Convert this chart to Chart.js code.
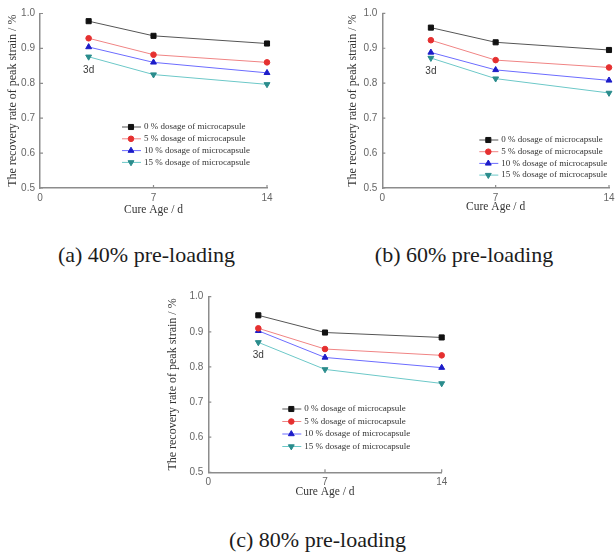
<!DOCTYPE html>
<html>
<head>
<meta charset="utf-8">
<script src="https://cdn.jsdelivr.net/npm/chart.js@4.4.1/dist/chart.umd.min.js"></script>
<style>
  body { margin: 0; background: #fff; width: 615px; height: 553px; overflow: hidden; position: relative; }
  .panel { position: absolute; }
  .caption {
    position: absolute;
    font-family: "Liberation Serif", "Times New Roman", serif;
    font-size: 22px;
    color: #1c1c1c;
    white-space: nowrap;
    transform: translate(-50%, -50%);
  }
</style>
</head>
<body>
<div class="panel" style="left:0;top:0"><canvas id="chartA" width="305" height="225"></canvas></div>
<div class="panel" style="left:340px;top:0"><canvas id="chartB" width="290" height="225"></canvas></div>
<div class="panel" style="left:160px;top:280px"><canvas id="chartC" width="310" height="225"></canvas></div>
<div class="caption" style="left:146.5px;top:255px">(a) 40% pre-loading</div>
<div class="caption" style="left:464px;top:255px">(b) 60% pre-loading</div>
<div class="caption" style="left:317.5px;top:540px">(c) 80% pre-loading</div>

<script>
// curing ages (days) shared by every panel
const ages = [3, 7, 14];
const ageLabel = "3d";

const seriesLabels = [
  "0 % dosage of microcapsule",
  "5 % dosage of microcapsule",
  "10 % dosage of microcapsule",
  "15 % dosage of microcapsule",
];

const xTicks = [0, 7, 14];
const yTicks = [0.5, 0.6, 0.7, 0.8, 0.9, 1.0];

// (a) 40% pre-loading
const pre40Dose0 = [0.978, 0.936, 0.914];
const pre40Dose5 = [0.929, 0.882, 0.860];
const pre40Dose10 = [0.904, 0.860, 0.830];
const pre40Dose15 = [0.876, 0.825, 0.797];

// (b) 60% pre-loading
const pre60Dose0 = [0.959, 0.917, 0.895];
const pre60Dose5 = [0.923, 0.866, 0.845];
const pre60Dose10 = [0.888, 0.838, 0.808];
const pre60Dose15 = [0.872, 0.813, 0.772];

// (c) 80% pre-loading
const pre80Dose0 = [0.947, 0.898, 0.884];
const pre80Dose5 = [0.910, 0.851, 0.833];
const pre80Dose10 = [0.903, 0.827, 0.798];
const pre80Dose15 = [0.870, 0.793, 0.753];

// one look per dosage series
const seriesStyles = [
  { line: "#555555", point: "#111111", shape: "rect", radius: 3.6, rotation: 0 },
  { line: "#f08484", point: "#e53030", shape: "circle", radius: 2.8, rotation: 0 },
  { line: "#6c6cff", point: "#1c1cc8", shape: "triangle", radius: 3.4, rotation: 0 },
  { line: "#6cc8c8", point: "#2a8c8c", shape: "triangle", radius: 3.4, rotation: 180 },
];

const axisGray = "#8c8c8c";
const serif = '"Liberation Serif", "Times New Roman", serif';
const sans = '"Liberation Sans", Arial, sans-serif';

// small tick marks pointing into the plot
const innerTicks = {
  id: "innerTicks",
  afterDraw(chart) {
    const { ctx, chartArea, scales } = chart;
    ctx.save();
    ctx.strokeStyle = axisGray;
    ctx.lineWidth = 1.2;
    ctx.beginPath();
    yTicks.forEach((v) => {
      const y = scales.y.getPixelForValue(v);
      ctx.moveTo(chartArea.left, y);
      ctx.lineTo(chartArea.left + 3, y);
    });
    xTicks.slice(1).forEach((v) => {
      const x = scales.x.getPixelForValue(v);
      ctx.moveTo(x, chartArea.bottom);
      ctx.lineTo(x, chartArea.bottom - 3);
    });
    ctx.stroke();
    ctx.restore();
  },
};

// legend drawn inside the plot area
const insideLegend = {
  id: "insideLegend",
  afterDraw(chart, args, opts) {
    const { ctx, chartArea } = chart;
    ctx.save();
    ctx.font = "9px " + serif;
    ctx.textBaseline = "middle";
    chart.data.datasets.forEach((ds, i) => {
      const x = chartArea.left + opts.x;
      const y = chartArea.top + opts.y + i * opts.gap;
      ctx.strokeStyle = ds.borderColor;
      ctx.lineWidth = 1;
      ctx.beginPath();
      ctx.moveTo(x, y);
      ctx.lineTo(x + 19, y);
      ctx.stroke();
      ctx.fillStyle = ds.pointBackgroundColor;
      ctx.strokeStyle = ds.pointBorderColor;
      Chart.helpers.drawPoint(ctx, {
        pointStyle: ds.pointStyle,
        rotation: ds.pointRotation,
        radius: ds.pointRadius,
        borderWidth: 1,
      }, x + 9, y);
      ctx.fillStyle = "#333";
      ctx.fillText(ds.label, x + 22, y);
    });
    ctx.restore();
  },
};

// "3d" note under the first point of the lowest series
const ageNote = {
  id: "ageNote",
  afterDraw(chart) {
    const { ctx, scales } = chart;
    const last = chart.data.datasets[chart.data.datasets.length - 1];
    const x = scales.x.getPixelForValue(ages[0]);
    const y = scales.y.getPixelForValue(last.data[0].y) + 13;
    ctx.save();
    ctx.font = "10px " + sans;
    ctx.fillStyle = "#3a3a3a";
    ctx.textAlign = "center";
    ctx.textBaseline = "middle";
    ctx.fillText(ageLabel, x, y);
    ctx.restore();
  },
};

function buildPanel(canvasId, seriesValues, box) {
  const datasets = seriesValues.map((values, i) => {
    const s = seriesStyles[i];
    return {
      label: seriesLabels[i],
      data: values.map((v, j) => ({ x: ages[j], y: v })),
      borderColor: s.line,
      borderWidth: 1,
      pointStyle: s.shape,
      pointRotation: s.rotation,
      pointRadius: s.radius,
      pointBackgroundColor: s.point,
      pointBorderColor: s.point,
      pointBorderWidth: 1,
      tension: 0,
      clip: false,
    };
  });

  new Chart(document.getElementById(canvasId), {
    type: "line",
    data: { datasets },
    plugins: [innerTicks, insideLegend, ageNote],
    options: {
      responsive: false,
      animation: false,
      layout: { padding: { top: box.top, right: box.right, left: 0, bottom: 0 } },
      plugins: {
        legend: { display: false },
        tooltip: { enabled: false },
        insideLegend: box.legend,
      },
      scales: {
        x: {
          type: "linear",
          min: 0,
          max: 14,
          afterBuildTicks: (scale) => { scale.ticks = xTicks.map((v) => ({ value: v })); },
          afterFit: (scale) => { scale.height = box.xHeight; },
          grid: { display: false, drawTicks: false },
          border: { display: true, color: axisGray, width: 1.5 },
          ticks: {
            color: "#666",
            padding: 4,
            autoSkip: false,
            maxRotation: 0,
            font: { family: sans, size: 10 },
          },
          title: {
            display: true,
            text: "Cure Age / d",
            color: "#333",
            font: { family: serif, size: 11.5 },
            padding: { top: 0, bottom: box.xTitlePad },
          },
        },
        y: {
          min: 0.5,
          max: 1.0,
          afterBuildTicks: (scale) => { scale.ticks = yTicks.map((v) => ({ value: v })); },
          afterFit: (scale) => { scale.width = box.yWidth; },
          grid: { display: false, drawTicks: false },
          border: { display: true, color: axisGray, width: 1.5 },
          ticks: {
            color: "#666",
            padding: 5,
            autoSkip: false,
            font: { family: sans, size: 10 },
            callback: (v) => v.toFixed(1),
          },
          title: {
            display: true,
            text: "The recovery rate of peak strain / %",
            color: "#333",
            font: { family: serif, size: 12 },
            padding: { top: 6, bottom: 0 },
          },
        },
      },
    },
  });
}

buildPanel("chartA", [pre40Dose0, pre40Dose5, pre40Dose10, pre40Dose15], {
  top: 13.5, right: 38, yWidth: 40, xHeight: 37, xTitlePad: 8,
  legend: { x: 82, y: 113.5, gap: 11.8 },
});

buildPanel("chartB", [pre60Dose0, pre60Dose5, pre60Dose10, pre60Dose15], {
  top: 13.3, right: 21, yWidth: 42.3, xHeight: 37, xTitlePad: 11,
  legend: { x: 97, y: 126.7, gap: 11.7 },
});

buildPanel("chartC", [pre80Dose0, pre80Dose5, pre80Dose10, pre80Dose15], {
  top: 16.7, right: 28.3, yWidth: 48.3, xHeight: 32.7, xTitlePad: 6,
  legend: { x: 74, y: 112.3, gap: 12.5 },
});
</script>
</body>
</html>
